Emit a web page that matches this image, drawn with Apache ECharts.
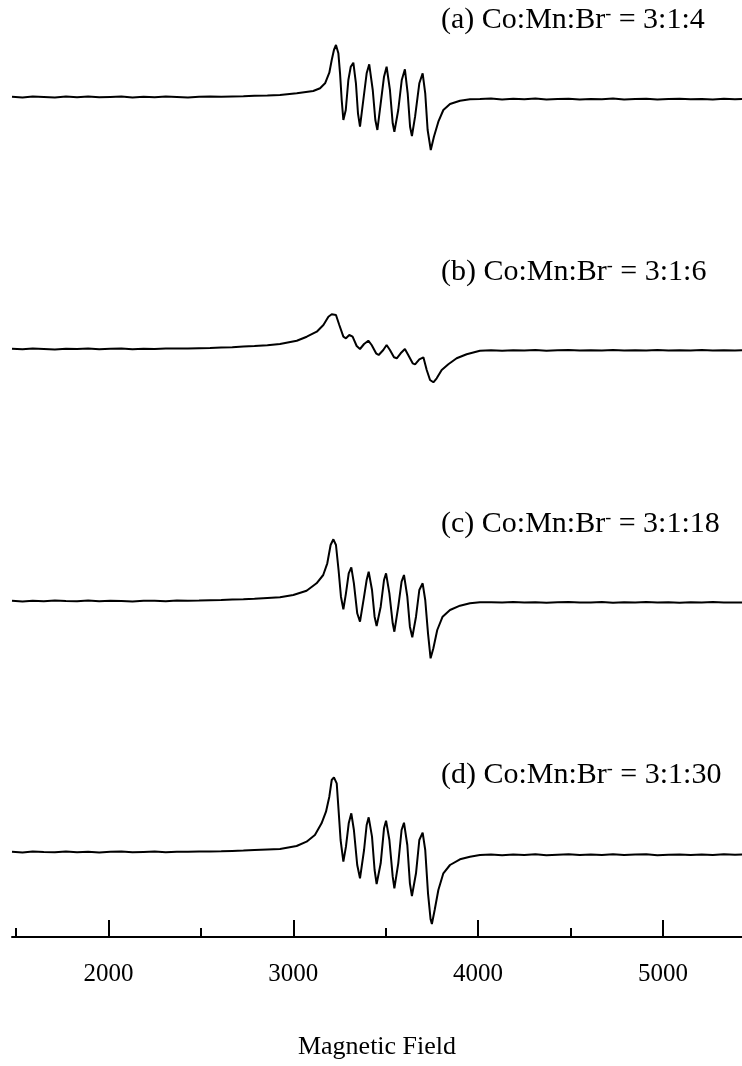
<!DOCTYPE html>
<html><head><meta charset="utf-8">
<script src="https://cdn.jsdelivr.net/npm/echarts@6/dist/echarts.min.js"></script>
<style>html,body{margin:0;padding:0;background:#fff}#c{width:742px;height:1066px}</style>
</head><body><div id="c"></div>
<script>
// Magnetic field range and ticks
const xMin = 1478, xMax = 5428;
const majorTicks = [2000, 3000, 4000, 5000];
const minorTicks = [1500, 2500, 3500, 4500];
const axisTitle = 'Magnetic Field';

// panel captions
const panelTags = ['(a)', '(b)', '(c)', '(d)'];
const ratios = ['3:1:4', '3:1:6', '3:1:18', '3:1:30'];

// baseline sample fields (shared)
const baseLeftField = [1478,1535,1590,1650,1710,1770,1830,1890,1950,2010,2070,2130,2190,2250,2310,2370,2430,2490,2550,2610,2670,2730,2790,2860];
const baseRightField = [4070,4130,4190,4250,4310,4370,4430,4490,4550,4610,4670,4730,4790,4850,4910,4970,5030,5090,5150,5210,5270,5330,5390,5428];

// (a) 3:1:4
const leftA = [0.2,-0.4,0.5,0,-0.5,0.4,-0.2,0.6,-0.3,0.1,0.5,-0.4,0.3,-0.2,0.4,0,-0.5,0.3,0.6,0.2,0.5,0.8,1.2,1.5];
const fieldA = [2928,3019,3108,3145,3172,3195,3208,3220,3231,3244,3253,3262,3271,3284,3298,3311,3325,3339,3350,3361,3379,3397,3411,3430,3444,3455,3473,3491,3505,3523,3538,3547,3568,3587,3604,3619,3632,3642,3659,3682,3700,3714,3727,3744,3761,3785,3812,3848,3902,3956,4010];
const sigA = [2,3.7,6,8.7,13.7,24.3,37,47,52,43.7,23.7,-3,-23,-13,17,30.3,34.3,13.7,-16.3,-29.7,-3,23.7,32.7,7,-23,-33,-6.3,20.3,30.3,7,-26.3,-34.7,-13,17,27.7,3.7,-29.7,-39,-19.7,13.7,23.7,3.7,-33,-53,-39.7,-24.7,-13,-7,-3.7,-2.3,-2];
const rightA = [-1.6,-2.4,-1.8,-2.2,-1.5,-2.5,-2,-1.7,-2.6,-1.9,-2.2,-1.5,-2.4,-2,-1.8,-2.6,-2.1,-1.7,-2.3,-2,-2.5,-1.8,-2.2,-2];

// (b) 3:1:6
const leftB = [0.3,-0.3,0.4,0,-0.4,0.3,0,0.5,-0.2,0.2,0.4,-0.3,0.3,0,0.5,0.4,0.5,0.8,1,1.5,1.8,2.4,3,3.8];
const fieldB = [2928,3019,3073,3127,3163,3190,3208,3231,3249,3271,3285,3303,3321,3343,3361,3383,3406,3424,3448,3462,3487,3505,3523,3545,3560,3581,3604,3622,3646,3659,3682,3704,3722,3740,3758,3776,3803,3839,3884,3938,4010];
const sigB = [5,8.3,12.3,17.3,24,32.3,34.7,34,24,12.3,10.7,14,12.3,3,0,5,8.3,4,-4.3,-6,-1,4,-1,-8.3,-9.3,-4.3,0,-6,-14.3,-15.3,-10.3,-8.3,-21,-31,-33.3,-29.3,-21,-15.3,-9.3,-5.3,-1.7];
const rightB = [-1.3,-1.8,-1.2,-1.6,-1.1,-1.7,-1.3,-1,-1.6,-1.2,-1.5,-1,-1.6,-1.2,-1.4,-1,-1.5,-1.2,-1.6,-1.1,-1.4,-1.2,-1.5,-1.3];

// (c) 3:1:18
const leftC = [0.2,-0.4,0.3,-0.2,0.5,0,-0.3,0.4,-0.2,0.3,0,-0.4,0.3,0.2,-0.2,0.4,0.3,0.5,0.8,1,1.4,1.8,2.3,3];
const fieldC = [2928,3000,3072,3126,3162,3184,3202,3217,3231,3245,3258,3271,3285,3300,3314,3328,3346,3361,3383,3397,3408,3426,3440,3451,3473,3491,3502,3520,3538,3547,3568,3586,3599,3617,3631,3644,3664,3682,3700,3714,3729,3743,3758,3779,3808,3848,3902,3956,4010];
const sigC = [3.7,6,10.3,17.7,26,37.7,56,61.7,56,31,4.3,-8.3,7.7,27.7,33.7,17.7,-12.3,-20.7,4.3,21,29.3,11,-15.7,-25,-5.7,21,27.7,7.7,-22.3,-30.7,-5.7,19.3,26,4.3,-25.7,-36.3,-15.7,11,17.7,1,-32.3,-57.3,-47.3,-29,-15.7,-9,-4.7,-2.3,-1.3];
const rightC = [-1.2,-1.5,-1,-1.6,-1.2,-1.8,-1.3,-1,-1.6,-1.4,-1.1,-1.7,-1.3,-1.5,-1,-1.6,-1.3,-1.8,-1.2,-1.5,-1.1,-1.6,-1.4,-1.5];

// (d) 3:1:30
const leftD = [0.3,-0.5,0.4,0,-0.3,0.6,-0.2,0.3,-0.6,0.2,0.5,-0.3,0.1,0.4,-0.2,0.3,0.2,0.4,0.6,0.8,1.1,1.4,2,2.6];
const fieldD = [2928,3018,3072,3117,3153,3177,3195,3208,3220,3235,3245,3256,3271,3285,3300,3314,3328,3346,3361,3383,3397,3408,3426,3440,3451,3473,3491,3502,3520,3538,3547,3568,3586,3599,3617,3631,3642,3664,3682,3700,3714,3729,3743,3750,3765,3785,3812,3848,3902,3956,4010];
const sigD = [3,6,10.3,17,28.7,40.3,55.3,72,74.7,68.7,42,12,-9.7,5.3,28.7,38.7,22,-13,-26.3,2,27,34.7,15.3,-18,-32,-11.3,23.7,31.3,12,-24.7,-36.3,-11.3,22,29.3,7,-31.3,-44,-21.3,12,19.3,2,-41.3,-67.3,-72,-58,-38,-21.3,-13,-7.3,-4.7,-3];
const rightD = [-2.6,-3.2,-2.4,-3,-2.2,-3.3,-2.7,-2.3,-3.1,-2.5,-2.9,-2.2,-3,-2.6,-2.3,-3.2,-2.8,-2.4,-3,-2.5,-2.9,-2.2,-2.7,-2.6];

const traces = [
  [leftA, fieldA, sigA, rightA],
  [leftB, fieldB, sigB, rightB],
  [leftC, fieldC, sigC, rightC],
  [leftD, fieldD, sigD, rightD]
];

function pairs(t) {
  const xs = baseLeftField.concat(t[1], baseRightField);
  const ys = t[0].concat(t[2], t[3]);
  return xs.map((x, i) => [x, ys[i]]);
}

const FONT = '"Liberation Serif", "Times New Roman", serif';
const baselines = [97, 349, 601, 852];
const yMax = 80, yMin = -85;

const grids = baselines.map(b => ({ left: 12, right: 0, top: b - yMax, height: yMax - yMin }));
const xAxes = baselines.map((b, i) => ({
  type: 'value', gridIndex: i, min: xMin, max: xMax,
  show: i === 3,
  axisLine: { show: true, onZero: false, lineStyle: { color: '#000', width: 2 } },
  axisTick: { show: true, inside: true, length: 17, customValues: majorTicks, lineStyle: { color: '#000', width: 2 } },
  axisLabel: { show: true, customValues: majorTicks, margin: 25, color: '#000', fontFamily: FONT, fontSize: 25, formatter: v => String(v) },
  splitLine: { show: false },
  name: i === 3 ? axisTitle : '',
  nameLocation: 'middle', nameGap: 97,
  nameTextStyle: { color: '#000', fontFamily: FONT, fontSize: 26 }
}));
xAxes.push({
  type: 'value', gridIndex: 3, min: xMin, max: xMax, position: 'bottom',
  axisLine: { show: false, onZero: false },
  axisTick: { show: true, inside: true, length: 9, customValues: minorTicks, lineStyle: { color: '#000', width: 2 } },
  axisLabel: { show: false }, splitLine: { show: false }
});
const yAxes = baselines.map((b, i) => ({ type: 'value', gridIndex: i, min: yMin, max: yMax, show: false }));

const series = traces.map((t, i) => ({
  type: 'line', xAxisIndex: i, yAxisIndex: i, data: pairs(t),
  showSymbol: false, animation: false,
  lineStyle: { color: '#000', width: 2 }
}));

const titles = panelTags.map((tag, i) => ({
  text: tag + ' Co:Mn:Br{s|-} = ' + ratios[i],
  left: 441, top: baselines[i] - 92, padding: 0,
  textStyle: {
    color: '#000', fontFamily: FONT, fontSize: 30, fontWeight: 'normal',
    rich: { s: { fontSize: 18, fontFamily: FONT, color: '#000', verticalAlign: 'top', padding: [0, 0, 12, 0] } }
  }
}));

const chart = echarts.init(document.getElementById('c'), null, { renderer: 'canvas' });
chart.setOption({
  animation: false,
  backgroundColor: '#fff',
  title: titles,
  grid: grids,
  xAxis: xAxes,
  yAxis: yAxes,
  series: series
});
</script></body></html>
